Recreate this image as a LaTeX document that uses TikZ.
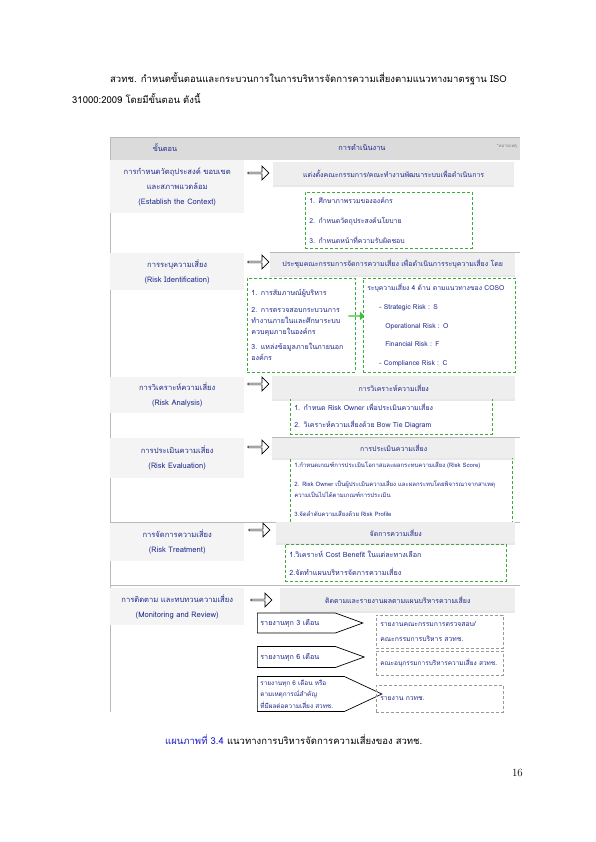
\documentclass[tikz,border=0pt]{standalone}
\usepackage{fontspec}
\newfontfamily\thai[Script=Thai]{Loma}
\usetikzlibrary{shapes.symbols,shapes.arrows,shadows,positioning}
\definecolor{navy}{HTML}{1F2A8C}
\definecolor{capblue}{HTML}{1A1AC8}
\definecolor{dgreen}{HTML}{3DAA3D}
\definecolor{okgreen}{HTML}{3CC03C}
\tikzset{
  txt/.style={font=\thai\fontsize{7}{11}\selectfont, text=navy, inner sep=0pt},
  stepbox/.style={txt, fill=gray!9, anchor=north west, minimum width=134pt,
    text width=130pt, align=center, font=\thai\fontsize{7.6}{15}\selectfont},
  headbox/.style={txt, fill=gray!13, anchor=north west, minimum height=23pt,
    align=center, draw=none, drop shadow={opacity=0.18, shadow xshift=0pt, shadow yshift=-2pt}},
  workbox/.style={txt, draw=dgreen, dash pattern=on 3pt off 2pt, line width=0.6pt,
    anchor=north west, align=left, inner sep=4pt},
  repbox/.style={txt, draw=gray!80, dash pattern=on 3pt off 2pt, line width=0.5pt,
    anchor=north west, align=left, inner sep=4pt},
  blockarrow/.style={single arrow, draw, fill=white, line width=0.7pt, minimum height=21pt,
    minimum width=14pt, single arrow head extend=2.5pt, inner sep=0pt},
  period/.style={txt, signal, signal to=east, draw, line width=0.7pt, fill=white,
    align=left, inner sep=3pt, anchor=west, font=\thai\fontsize{7.2}{12}\selectfont},
  sep/.style={gray!55, line width=0.5pt}
}
\begin{document}
\begin{tikzpicture}[x=1pt,y=-1pt]
\useasboundingbox[fill=white] (0,0) rectangle (595,842);

% ข้อความนำ
\node[font=\thai\fontsize{9.5}{12}\selectfont, anchor=base west, inner sep=0pt] (intro1) at (110,83)
  {สวทช. กำหนดขั้นตอนและกระบวนการในการบริหารจัดการความเสี่ยงตามแนวทางมาตรฐาน ISO};
\node[font=\thai\fontsize{9.5}{12}\selectfont, anchor=base west, inner sep=0pt] (intro2) at (72,104)
  {31000:2009 โดยมีขั้นตอน ดังนี้};

% กรอบตาราง
\fill[gray!28] (110,137) rectangle (520,160);
\draw[sep] (520,137) -- (110,137) -- (110,712);
\draw[sep] (110,522) -- (520,522);
\draw[sep] (110,585) -- (520,585);
\node[txt, font=\thai\fontsize{7.4}{9}\selectfont] (colstep) at (165,148) {ขั้นตอน};
\node[txt, font=\thai\fontsize{7.4}{9}\selectfont] (colwork) at (362,148) {การดำเนินงาน};
\node[txt, font=\thai\fontsize{4.5}{6}\selectfont, text=gray] (colnote) at (507,146) {*หมายเหตุ};

% ขั้นตอนทางซ้าย
\node[stepbox, minimum height=53pt] (s1) at (110,160)
  {การกำหนดวัตถุประสงค์ ขอบเขต\\และสภาพแวดล้อม\\(Establish the Context)};
\node[stepbox, minimum height=37pt] (s2) at (110,253)
  {การระบุความเสี่ยง\\(Risk Identification)};
\node[stepbox, minimum height=36pt] (s3) at (110,377)
  {การวิเคราะห์ความเสี่ยง\\(Risk Analysis)};
\node[stepbox, minimum height=40pt] (s4) at (110,438)
  {การประเมินความเสี่ยง\\(Risk Evaluation)};
\node[stepbox, minimum height=38pt] (s5) at (110,523)
  {การจัดการความเสี่ยง\\(Risk Treatment)};
\node[stepbox, minimum height=37pt] (s6) at (110,588)
  {การติดตาม และทบทวนความเสี่ยง\\(Monitoring and Review)};

% ลูกศรไปยังการดำเนินงาน
\node[blockarrow] (a1) at (258,173) {};
\node[blockarrow] (a2) at (258,262) {};
\node[blockarrow] (a3) at (258,384) {};
\node[blockarrow] (a4) at (258,447) {};
\node[blockarrow] (a5) at (259,530) {};
\node[blockarrow] (a6) at (261,600) {};

% กล่องงานย่อย (เส้นประสีเขียว)
\node[workbox, minimum width=167pt, minimum height=56pt, text width=159pt,
  font=\thai\fontsize{6.9}{20}\selectfont] (w1) at (305,192)
  {1. ศึกษาภาพรวมขององค์กร\\2. กำหนดวัตถุประสงค์นโยบาย\\3. กำหนดหน้าที่ความรับผิดชอบ};
\node[workbox, minimum width=108pt, minimum height=94pt, text width=100pt,
  font=\thai\fontsize{7.1}{11}\selectfont] (w2a) at (247,278)
  {1. การสัมภาษณ์ผู้บริหาร\\[6pt]2. การตรวจสอบกระบวนการ\\ทำงานภายในและศึกษาระบบ\\ควบคุมภายในองค์กร\\[4pt]3. แหล่งข้อมูลภายในภายนอก\\องค์กร};
\node[workbox, minimum width=152pt, minimum height=94pt, text width=144pt,
  font=\thai\fontsize{6.8}{18.7}\selectfont] (w2b) at (363,278)
  {ระบุความเสี่ยง 4 ด้าน ตามแนวทางของ COSO\\
   \hspace*{12pt}- Strategic Risk : S\\
   \hspace*{18pt}Operational Risk : O\\
   \hspace*{18pt}Financial Risk : F\\
   \hspace*{12pt}- Compliance Risk : C};
\node[workbox, minimum width=202pt, minimum height=36pt, text width=194pt,
  font=\thai\fontsize{7}{17}\selectfont] (w3) at (290,398)
  {1. กำหนด Risk Owner เพื่อประเมินความเสี่ยง\\2. วิเคราะห์ความเสี่ยงด้วย Bow Tie Diagram};
\node[workbox, minimum width=222pt, minimum height=67pt, text width=214pt,
  font=\thai\fontsize{6}{11}\selectfont] (w4) at (290,455)
  {\mbox{1.กำหนดเกณฑ์การประเมินโอกาสและผลกระทบความเสี่ยง (Risk Score)}\\[8pt]
   \mbox{2. Risk Owner เป็นผู้ประเมินความเสี่ยง และผลกระทบโดยพิจารณาจากสาเหตุ}\\
   \mbox{ความเป็นไปได้ตามเกณฑ์การประเมิน}\\[8pt]
   \mbox{3.จัดลำดับความเสี่ยงด้วย Risk Profile}};
\node[workbox, minimum width=221pt, minimum height=37pt, text width=213pt,
  font=\thai\fontsize{7.2}{18}\selectfont] (w5) at (285,544)
  {1.วิเคราะห์ Cost Benefit ในแต่ละทางเลือก\\2.จัดทำแผนบริหารจัดการความเสี่ยง};

% ลูกศรสีเขียว
\node[single arrow, fill=okgreen, minimum height=16pt, minimum width=9pt,
  single arrow head extend=1.5pt, inner sep=0pt] (ga) at (356,316) {};

% หัวข้อการดำเนินงาน
\node[headbox, minimum width=241pt] (h1) at (273,162)
  {แต่งตั้งคณะกรรมการ/คณะทำงานพัฒนาระบบเพื่อดำเนินการ};
\node[headbox, minimum width=245pt] (h2) at (270,252)
  {ประชุมคณะกรรมการจัดการความเสี่ยง เพื่อดำเนินการระบุความเสี่ยง โดย};
\node[headbox, minimum width=243pt] (h3) at (272,376) {การวิเคราะห์ความเสี่ยง};
\node[headbox, minimum width=243pt, minimum height=21pt] (h4) at (272,437) {การประเมินความเสี่ยง};
\node[headbox, minimum width=239pt, minimum height=21pt] (h5) at (276,522) {จัดการความเสี่ยง};
\node[headbox, minimum width=235pt] (h6) at (280,588)
  {ติดตามและรายงานผลตามแผนบริหารความเสี่ยง};
\draw[sep] (h2.north west) -- (520,252);
\draw[sep] (h4.north west) -- (520,437);

% การรายงานผล
\node[period, text width=72pt, minimum height=20pt, signal pointer angle=40] (p1) at (257,623)
  {รายงานทุก 3 เดือน};
\node[period, text width=72pt, minimum height=21pt, signal pointer angle=40] (p2) at (257,657)
  {รายงานทุก 6 เดือน};
\node[period, text width=81pt, minimum height=35pt, signal pointer angle=50,
  font=\thai\fontsize{6.4}{11.5}\selectfont] (p3) at (257,694)
  {\mbox{รายงานทุก 6 เดือน หรือ}\\\mbox{ตามเหตุการณ์สำคัญ}\\\mbox{ที่มีผลต่อความเสี่ยง สวทช.}};
\node[repbox, minimum width=127pt, minimum height=33pt, text width=119pt,
  font=\thai\fontsize{6.8}{15}\selectfont] (r1) at (376,615)
  {รายงานคณะกรรมการตรวจสอบ/\\คณะกรรมการบริหาร สวทช.};
\node[repbox, minimum width=127pt, minimum height=24pt, text width=119pt,
  font=\thai\fontsize{6.5}{11}\selectfont] (r2) at (376,651)
  {\mbox{คณะอนุกรรมการบริหารความเสี่ยง สวทช.}};
\node[repbox, minimum width=127pt, minimum height=27pt, text width=119pt,
  font=\thai\fontsize{6.8}{11}\selectfont] (r3) at (376,685)
  {รายงาน กวทช.};

% คำอธิบายภาพและเลขหน้า
\node[font=\thai\fontsize{9.5}{12}\selectfont, anchor=base west, inner sep=0pt] (caption) at (165,744)
  {\textcolor{capblue}{แผนภาพที่ 3.4} แนวทางการบริหารจัดการความเสี่ยงของ สวทช.};
\node[font=\fontsize{11}{13}\selectfont, anchor=base east, inner sep=0pt] (page) at (523,776) {16};
\end{tikzpicture}
\end{document}
